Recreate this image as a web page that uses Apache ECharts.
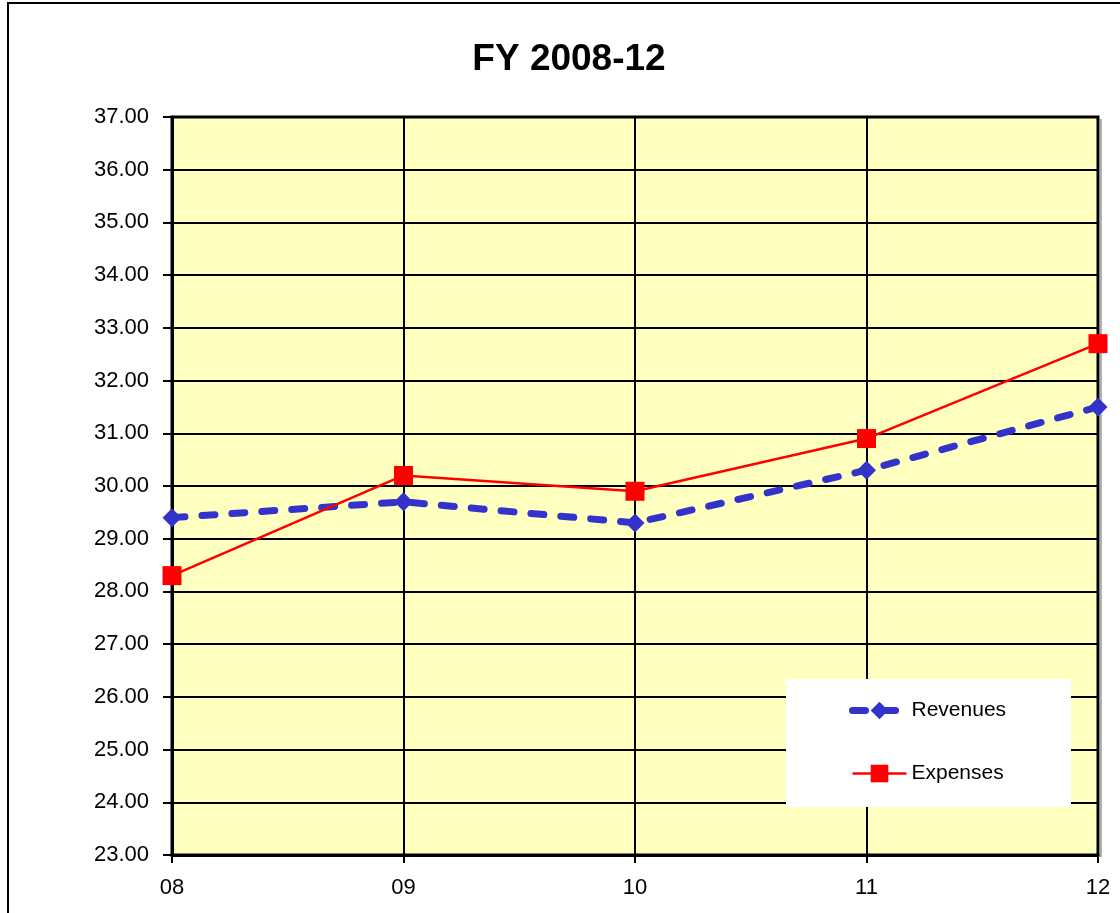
<!DOCTYPE html>
<html>
<head>
<meta charset="utf-8">
<script src="https://cdn.jsdelivr.net/npm/echarts@6/dist/echarts.min.js"></script>
<style>
  html, body { margin: 0; padding: 0; background: #fff; }
  #chart { width: 1120px; height: 913px; }
</style>
</head>
<body>
<div id="chart"></div>
<script>
// 数据
var years = ['08', '09', '10', '11', '12'];
var revenues = [29.4, 29.7, 29.3, 30.3, 31.5];
var expenses = [28.3, 30.2, 29.9, 30.9, 32.7];
var yMin = 23, yMax = 37, yStep = 1;

var chart = echarts.init(document.getElementById('chart'));
var font = '"Liberation Sans", Arial, sans-serif';

var revLine = { color: '#3333CC', width: 7, type: [13, 17], cap: 'round' };
var expLine = { color: '#FF0000', width: 2.5 };

var option = {
  animation: false,
  title: {
    text: 'FY 2008-12',
    left: 564,
    top: 36,
    textAlign: 'center',
    textStyle: { fontFamily: font, fontSize: 37, fontWeight: 'bold', color: '#000' }
  },
  // 外框 + 图例白底
  graphic: [
    {
      type: 'rect',
      shape: { x: 8, y: 3, width: 1300, height: 1000 },
      style: { fill: 'none', stroke: '#000', lineWidth: 2 },
      z: 100,
      silent: true
    },
    {
      type: 'rect',
      shape: { x: 1100, y: 119, width: 2, height: 738 },
      style: { fill: '#b0b0b0' },
      z: 3,
      silent: true
    },
    {
      type: 'rect',
      shape: { x: 786, y: 679, width: 285, height: 128 },
      style: { fill: '#fff' },
      z: 3,
      silent: true
    }
  ],
  grid: {
    left: 172,
    top: 117,
    right: 22,
    bottom: 58,
    show: true,
    backgroundColor: '#FFFFC0',
    borderColor: '#000',
    borderWidth: 3
  },
  legend: {
    orient: 'vertical',
    left: 849,
    top: 700,
    padding: 0,
    itemWidth: 54,
    itemHeight: 22,
    itemGap: 42,
    z: 5,
    textStyle: { fontFamily: font, fontSize: 21, color: '#000', lineHeight: 21 },
    data: [
      { name: 'Revenues', lineStyle: revLine },
      { name: 'Expenses', lineStyle: expLine }
    ]
  },
  xAxis: {
    type: 'category',
    data: years,
    boundaryGap: false,
    axisLine: { lineStyle: { color: '#000', width: 3 } },
    axisTick: { show: true, length: 8, lineStyle: { color: '#000', width: 2 } },
    axisLabel: { color: '#000', fontFamily: font, fontSize: 22, margin: 22 },
    splitLine: { show: true, lineStyle: { color: '#000', width: 2 } }
  },
  yAxis: {
    type: 'value',
    min: yMin,
    max: yMax,
    interval: yStep,
    axisLine: { show: true, lineStyle: { color: '#000', width: 3 } },
    axisTick: { show: true, length: 9, lineStyle: { color: '#000', width: 2 } },
    axisLabel: {
      color: '#000', fontFamily: font, fontSize: 22, margin: 23,
      formatter: function (v) { return v.toFixed(2); }
    },
    splitLine: { show: true, lineStyle: { color: '#000', width: 2 } }
  },
  series: [
    {
      name: 'Revenues',
      type: 'line',
      data: revenues,
      symbol: 'diamond',
      symbolSize: 19,
      itemStyle: { color: '#3333CC' },
      lineStyle: revLine,
      z: 3
    },
    {
      name: 'Expenses',
      type: 'line',
      data: expenses,
      symbol: 'rect',
      symbolSize: 19,
      itemStyle: { color: '#FF0000' },
      lineStyle: expLine,
      z: 4
    }
  ]
};

chart.setOption(option);
</script>
</body>
</html>
